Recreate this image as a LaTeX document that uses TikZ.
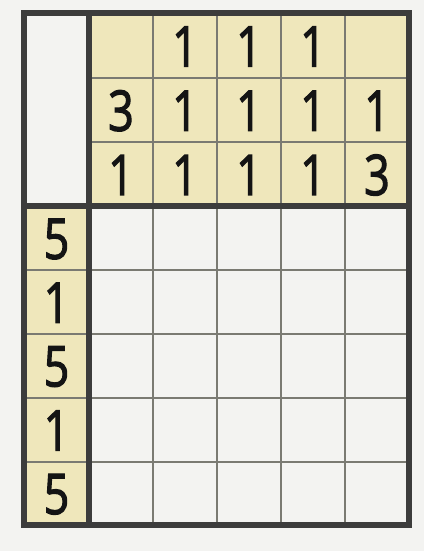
\documentclass[tikz,border=0pt]{standalone}
\usepackage{fontspec}
\setmainfont{Open Sans}
\newfontfamily\cluefont{Open Sans}[FakeBold=2.3]
\usetikzlibrary{positioning}
\definecolor{paper}{HTML}{F3F3F1}
\definecolor{cluefill}{HTML}{EFE7BB}
\definecolor{framegray}{HTML}{3C3C3C}
\definecolor{linegray}{HTML}{7A7A72}
\tikzset{
  cluenum/.style={inner sep=0pt, font=\cluefont\fontsize{28}{28}\selectfont, text=black!92, xscale=0.8, transform shape},
  thickline/.style={line width=2.6pt, draw=framegray},
  thinline/.style={line width=1.4pt, draw=linegray}
}

\begin{document}
\begin{tikzpicture}[x=0.5pt,y=-0.5pt]
        \fill[paper] (0,0) rectangle (424,551);
        \useasboundingbox (0,0) rectangle (424,551);
        % clue areas
        \fill[cluefill] (89,13) rectangle (409,206);
        \fill[cluefill] (24,206) rectangle (89,525);
        % grid
        \foreach \x in {153,217,281,345}
            \draw[thinline] (\x,13) -- (\x,525);
        \foreach \y in {78,142}
            \draw[thinline] (89,\y) -- (409,\y);
        \foreach \y in {270,334,398,462}
            \draw[thinline] (24,\y) -- (409,\y);
        \draw[thickline] (24,13) rectangle (409,525);
        \draw[thickline] (89,13) -- (89,525);
        \draw[thickline] (24,206) -- (409,206);
        % column clues
        \foreach \n/\x/\y in {a/185/1, b/249/1, c/313/1,
                              d/121/2, e/185/2, f/249/2, g/313/2, h/377/2,
                              i/121/3, j/185/3, k/249/3, l/313/3, m/377/3}
            \coordinate (c-\n) at (\x,{46.5+64.25*(\y-1)});
        \node[cluenum] (top-1-2) at (c-a) {1};
        \node[cluenum] (top-1-3) at (c-b) {1};
        \node[cluenum] (top-1-4) at (c-c) {1};
        \node[cluenum] (top-2-1) at (c-d) {3};
        \node[cluenum] (top-2-2) at (c-e) {1};
        \node[cluenum] (top-2-3) at (c-f) {1};
        \node[cluenum] (top-2-4) at (c-g) {1};
        \node[cluenum] (top-2-5) at (c-h) {1};
        \node[cluenum] (top-3-1) at (c-i) {1};
        \node[cluenum] (top-3-2) at (c-j) {1};
        \node[cluenum] (top-3-3) at (c-k) {1};
        \node[cluenum] (top-3-4) at (c-l) {1};
        \node[cluenum] (top-3-5) at (c-m) {3};
        % row clues
        \foreach \v [count=\r] in {5,1,5,1,5}
            \node[cluenum] (left-\r) at (56.5,{239+63.8*(\r-1)}) {\v};
    \end{tikzpicture}
\end{document}
